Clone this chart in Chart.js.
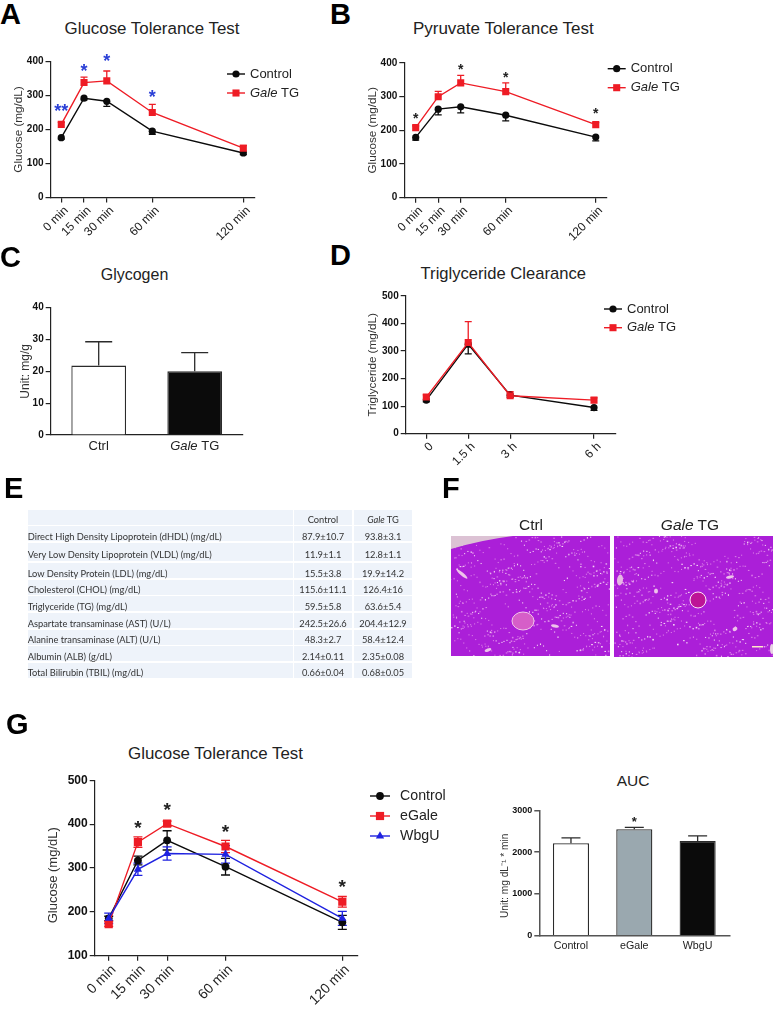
<!DOCTYPE html>
<html lang="en">
<head>
<meta charset="UTF-8">
<title>Gale TG metabolic panels</title>
<script src="https://cdn.jsdelivr.net/npm/chart.js"></script>
<style>
  html, body { margin: 0; padding: 0; background: #fff; }
  #page { position: relative; width: 774px; height: 1019px; overflow: hidden; font-family: "Liberation Sans", Arial, sans-serif; color: #222; }
  #page canvas { position: absolute; }
  .letter { position: absolute; font-size: 29px; line-height: 29px; font-weight: bold; color: #000; }
  .ptitle { position: absolute; transform: translate(-50%, -50%); white-space: nowrap; color: #222; }
  /* table E */
  .cell { position: absolute; box-sizing: border-box; padding-top: 5px; background: #eef3fa; font-family: Lato, "Open Sans", sans-serif; font-size: 9.3px; color: #333; display: flex; align-items: center; white-space: nowrap; }
  .cell.mid { justify-content: center; }
</style>
</head>
<body>
<div id="page"></div>

<script>
// shared
const minutes = [0, 15, 30, 60, 120];
const minuteLabels = ["0 min", "15 min", "30 min", "60 min", "120 min"];

// A - glucose tolerance test
const aControl = [176, 292, 283, 195, 131];
const aControlLow = [4, 5, 15, 9, 5];
const aGale = [215, 338, 343, 250, 145];
const aGaleHigh = [6, 16, 29, 24, 8];
const aStarTimes = [0, 15, 30, 60];
const aStarLevels = [262, 380, 408, 304];
const aStarTexts = ["**", "*", "*", "*"];

// B - pyruvate tolerance test
const bControl = [179, 263, 270, 245, 180];
const bControlLow = [8, 17, 18, 17, 11];
const bGale = [208, 300, 341, 315, 217];
const bGaleHigh = [5, 16, 22, 26, 6];
const bStarTimes = [0, 30, 60, 120];
const bStarLevels = [242, 386, 364, 256];

// C - glycogen
const cGroups = ["Ctrl", "Gale TG"];
const cValues = [21.8, 20];
const cHigh = [7.5, 5.9];

// D - triglyceride clearance
const hours = [0, 1.5, 3, 6];
const hourLabels = ["0", "1.5 h", "3 h", "6 h"];
const dControl = [122, 325, 140, 95];
const dControlLow = [6, 35, 8, 10];
const dGale = [133, 331, 138, 122];
const dGaleHigh = [8, 76, 15, 8];

// E - serum table
const tableRows = ["Direct High Density Lipoprotein (dHDL) (mg/dL)", "Very Low Density Lipoprotein (VLDL) (mg/dL)", "Low Density Protein (LDL) (mg/dL)", "Cholesterol (CHOL) (mg/dL)", "Triglyceride (TG) (mg/dL)", "Aspartate transaminase (AST) (U/L)", "Alanine transaminase (ALT) (U/L)", "Albumin (ALB) (g/dL)", "Total Bilirubin (TBIL) (mg/dL)"];
const tableControl = ["87.9±10.7", "11.9±1.1", "15.5±3.8", "115.6±11.1", "59.5±5.8", "242.5±26.6", "48.3±2.7", "2.14±0.11", "0.66±0.04"];
const tableGale = ["93.8±3.1", "12.8±1.1", "19.9±14.2", "126.4±16", "63.6±5.4", "204.4±12.9", "58.4±12.4", "2.35±0.08", "0.68±0.05"];

// G - glucose tolerance test, eGale / WbgU
const gControl = [185, 317, 363, 303, 176];
const gControlErr = [5, 10, 22, 19, 16];
const gGale = [172, 359, 401, 349, 223];
const gGaleErr = [5, 12, 6, 14, 12];
const gWbgu = [185, 297, 333, 331, 185];
const gWbguErr = [12, 14, 15, 20, 16];
const gStarTimes = [15, 30, 60, 120];
const gStarLevels = [399, 440, 389, 263];

// AUC
const aucGroups = ["Control", "eGale", "WbgU"];
const aucValues = [2210, 2545, 2266];
const aucHigh = [128, 48, 120];
const aucStarGroups = [1];
const aucStarLevels = [2770];

const BLACK = "#0b0b0b";
const RED = "#ee1c25";
const BLUE = "#1f22e0";
const STAR_BLUE = "#2a3fd6";
const page = document.getElementById("page");

// draws "Gale TG" with the gene name in italics, anything else plain
function richText(ctx, label, x, y, size, align) {
  const parts = label.startsWith("Gale ") ? [["italic ", "Gale"], ["", " " + label.slice(5)]] : [["", label]];
  let total = 0;
  parts.forEach(p => { ctx.font = p[0] + size + 'px "Liberation Sans"'; total += ctx.measureText(p[1]).width; });
  let cx = align === "center" ? x - total / 2 : x;
  ctx.textAlign = "left";
  ctx.textBaseline = "middle";
  parts.forEach(p => {
    ctx.font = p[0] + size + 'px "Liberation Sans"';
    ctx.fillText(p[1], cx, y);
    cx += ctx.measureText(p[1]).width;
  });
}

// error bars sit under the markers
const errorBars = {
  id: "errorBars",
  beforeDatasetsDraw(chart, args, opts) {
    const ctx = chart.ctx;
    const yScale = chart.scales.y;
    chart.data.datasets.forEach((ds, d) => {
      const meta = chart.getDatasetMeta(d);
      meta.data.forEach((pt, i) => {
        const val = yScale.getValueForPixel(pt.y);
        const high = ds.errHigh ? ds.errHigh[i] : 0;
        const low = ds.errLow ? ds.errLow[i] : 0;
        const y1 = yScale.getPixelForValue(val + high);
        const y2 = yScale.getPixelForValue(val - low);
        ctx.save();
        ctx.strokeStyle = ds.errColor || ds.borderColor;
        ctx.lineWidth = opts.width;
        ctx.beginPath();
        ctx.moveTo(pt.x, y1); ctx.lineTo(pt.x, y2);
        if (high) { ctx.moveTo(pt.x - opts.cap, y1); ctx.lineTo(pt.x + opts.cap, y1); }
        if (low) { ctx.moveTo(pt.x - opts.cap, y2); ctx.lineTo(pt.x + opts.cap, y2); }
        ctx.stroke();
        ctx.restore();
      });
    });
  }
};

// significance stars, placed through the scales
const stars = {
  id: "stars",
  afterDatasetsDraw(chart, args, opts) {
    if (!opts.at) return;
    const ctx = chart.ctx;
    ctx.save();
    ctx.fillStyle = opts.color;
    ctx.font = "bold " + opts.size + 'px "Liberation Sans"';
    ctx.textAlign = "center";
    ctx.textBaseline = "middle";
    opts.at.forEach((x, i) => {
      const px = chart.scales.x.getPixelForValue(x);
      const py = chart.scales.y.getPixelForValue(opts.levels[i]);
      ctx.fillText(opts.texts ? opts.texts[i] : "*", px, py + opts.size * 0.2);
    });
    ctx.restore();
  }
};

// legend with a mixed-style label, placed at page coordinates
const keyBox = {
  id: "keyBox",
  afterDraw(chart, args, opts) {
    if (!opts.x) return;
    const ctx = chart.ctx;
    const box = chart.canvas.getBoundingClientRect();
    const origin = page.getBoundingClientRect();
    const left = opts.x - (box.left - origin.left);
    const top = opts.y - (box.top - origin.top);
    chart.data.datasets.forEach((ds, i) => {
      const y = top + i * opts.step;
      ctx.save();
      ctx.strokeStyle = ds.borderColor;
      ctx.fillStyle = ds.pointBackgroundColor;
      ctx.lineWidth = ds.borderWidth;
      ctx.beginPath();
      ctx.moveTo(left, y); ctx.lineTo(left + opts.line, y);
      ctx.stroke();
      Chart.helpers.drawPoint(ctx, { pointStyle: ds.pointStyle, radius: ds.pointRadius, borderWidth: 0 }, left + opts.line / 2, y);
      ctx.fillStyle = "#222";
      richText(ctx, ds.label, left + opts.line + opts.gap, y, opts.size, "left");
      ctx.restore();
    });
  }
};

// bar chart tick labels, so "Gale" can be italic
const groupLabels = {
  id: "groupLabels",
  afterDraw(chart, args, opts) {
    const ctx = chart.ctx;
    const sx = chart.scales.x;
    ctx.save();
    ctx.fillStyle = "#222";
    chart.data.labels.forEach((label, i) => {
      richText(ctx, label, sx.getPixelForValue(i), sx.top + opts.offset, opts.size, "center");
    });
    ctx.restore();
  }
};

// every panel: box = canvas on the page, plot = where the axes must land on the page
function makePanel(p) {
  const c = document.createElement("canvas");
  c.style.left = p.box[0] + "px";
  c.style.top = p.box[1] + "px";
  c.width = p.box[2];
  c.height = p.box[3];
  page.appendChild(c);

  const left = p.plot[0] - p.box[0];
  const top = p.plot[1] - p.box[1];
  const right = p.box[0] + p.box[2] - p.plot[2];
  const bottom = p.box[1] + p.box[3] - p.plot[3];
  const axisColor = p.axisColor || "#222";
  const axisWidth = p.axisWidth || 1.2;

  const x = {
    grid: { display: true, drawOnChartArea: false, drawTicks: !!p.xTicks, tickLength: 5, color: axisColor, lineWidth: axisWidth },
    border: { display: true, color: axisColor, width: axisWidth },
    afterFit(scale) { scale.height = bottom; }
  };
  if (p.xTicks) {
    x.type = "linear";
    x.min = p.xRange[0];
    x.max = p.xRange[1];
    x.afterBuildTicks = scale => { scale.ticks = p.xTicks.map(v => ({ value: v })); };
    x.ticks = {
      autoSkip: false, minRotation: 45, maxRotation: 45, padding: 1, labelOffset: 5,
      color: "#222", font: { family: "Liberation Sans", size: p.xFont },
      callback: (v, i) => p.xNames[i]
    };
  } else {
    x.type = "category";
    x.ticks = { display: false };
  }

  new Chart(c, {
    type: p.kind,
    data: { labels: p.labels, datasets: p.datasets },
    plugins: [errorBars, stars, keyBox, groupLabels],
    options: {
      responsive: false,
      animation: false,
      events: [],
      layout: { padding: { left: 0, top: top, right: right, bottom: 0 } },
      scales: {
        x: x,
        y: {
          min: p.yRange[0], max: p.yRange[1],
          ticks: { stepSize: p.yStep, padding: 2, color: "#111", font: { family: "Liberation Sans", size: p.yFont, weight: "bold" }, callback: v => String(v) },
          grid: { display: true, drawOnChartArea: false, drawTicks: true, tickLength: 5, color: axisColor, lineWidth: axisWidth },
          border: { display: true, color: axisColor, width: axisWidth },
          title: { display: true, text: p.yTitle, color: "#333", padding: { top: 0, bottom: 0 }, font: { family: "Liberation Sans", size: p.titleFont } },
          afterFit(scale) { scale.width = left; }
        }
      },
      plugins: {
        legend: { display: false },
        tooltip: { enabled: false },
        errorBars: { width: p.errWidth || 1.3, cap: p.cap },
        stars: p.stars || {},
        keyBox: p.key || {},
        groupLabels: p.kind === "bar" ? p.groupFont : false
      }
    }
  });
}

function lineSeries(label, times, values, color, shape, radius, low, high) {
  return {
    label: label,
    data: times.map((t, i) => ({ x: t, y: values[i] })),
    borderColor: color, backgroundColor: color, pointBackgroundColor: color,
    borderWidth: 1.4, pointStyle: shape, pointRadius: radius, pointBorderWidth: 0,
    tension: 0, errLow: low, errHigh: high
  };
}

function barSeries(values, high, fills) {
  return {
    data: values, backgroundColor: fills, borderColor: "#2b2b2b", errColor: "#2b2b2b",
    borderWidth: 1.3, barPercentage: 0.57, categoryPercentage: 1, errHigh: high
  };
}

// later series on top, as in the reference
function stack(list) { list.forEach((d, i) => { d.order = list.length - i; }); return list; }

makePanel({
  kind: "line", box: [12, 45, 318, 205], plot: [50.5, 61.5, 255, 197.5],
  xTicks: minutes, xNames: minuteLabels, xRange: [-7.1, 127.7], xFont: 12,
  yRange: [0, 400], yStep: 100, yFont: 10, yTitle: "Glucose (mg/dL)", titleFont: 11.7, cap: 3.5,
  datasets: stack([
    lineSeries("Control", minutes, aControl, BLACK, "circle", 3.6, aControlLow, null),
    lineSeries("Gale TG", minutes, aGale, RED, "rect", 5, null, aGaleHigh)
  ]),
  stars: { at: aStarTimes, levels: aStarLevels, texts: aStarTexts, color: STAR_BLUE, size: 18 },
  key: { x: 227, y: 74, step: 19, line: 18, gap: 5, size: 13 }
});

makePanel({
  kind: "line", box: [366, 45, 369, 205], plot: [404.3, 63, 606.7, 197.7],
  xTicks: minutes, xNames: minuteLabels, xRange: [-7.6, 127.3], xFont: 12,
  yRange: [0, 400], yStep: 100, yFont: 10, yTitle: "Glucose (mg/dL)", titleFont: 11.7, cap: 3.5,
  datasets: stack([
    lineSeries("Control", minutes, bControl, BLACK, "circle", 3.6, bControlLow, null),
    lineSeries("Gale TG", minutes, bGale, RED, "rect", 5, null, bGaleHigh)
  ]),
  stars: { at: bStarTimes, levels: bStarLevels, color: "#222", size: 14 },
  key: { x: 607.7, y: 68.7, step: 19, line: 18, gap: 5, size: 13 }
});

makePanel({
  kind: "bar", box: [18, 295, 244, 170], plot: [50.7, 307.7, 242.7, 435],
  labels: cGroups,
  yRange: [0, 40], yStep: 10, yFont: 10, yTitle: "Unit: mg/g", titleFont: 12, cap: 13.5,
  datasets: [barSeries(cValues, cHigh, ["#ffffff", "#0b0b0b"])],
  groupFont: { size: 13, offset: 11 }
});

makePanel({
  kind: "line", box: [366, 285, 369, 190], plot: [405.7, 296, 615.7, 433.7],
  xTicks: hours, xNames: hourLabels, xRange: [-0.737, 6.776], xFont: 12,
  yRange: [0, 500], yStep: 100, yFont: 10, yTitle: "Triglyceride (mg/dL)", titleFont: 11.7, cap: 3.5,
  datasets: stack([
    lineSeries("Control", hours, dControl, BLACK, "circle", 3.6, dControlLow, null),
    lineSeries("Gale TG", hours, dGale, RED, "rect", 5, null, dGaleHigh)
  ]),
  key: { x: 604, y: 309, step: 18.7, line: 18, gap: 5, size: 13 }
});

// trailing spaces nudge the rotated y title down, it is not centred on the axis in the reference
makePanel({
  kind: "line", box: [46, 770, 414, 249], plot: [94.7, 780.3, 357.7, 955.7],
  xTicks: minutes, xNames: minuteLabels, xRange: [-7.2, 127.9], xFont: 14,
  yRange: [100, 500], yStep: 100, yFont: 12, yTitle: "Glucose (mg/dL)    ", titleFont: 13, cap: 4.5,
  datasets: stack([
    lineSeries("Control", minutes, gControl, BLACK, "circle", 3.9, gControlErr, gControlErr),
    lineSeries("eGale", minutes, gGale, RED, "rect", 5.8, gGaleErr, gGaleErr),
    lineSeries("WbgU", minutes, gWbgu, BLUE, "triangle", 4.8, gWbguErr, gWbguErr)
  ]),
  stars: { at: gStarTimes, levels: gStarLevels, color: "#222", size: 19 },
  key: { x: 370, y: 796, step: 20, line: 20, gap: 10, size: 14.2 }
});

makePanel({
  kind: "bar", box: [499, 800, 251, 165], plot: [539.3, 810.3, 729.3, 935.7],
  labels: aucGroups, axisColor: "#555", axisWidth: 1.5,
  yRange: [0, 3000], yStep: 1000, yFont: 9, yTitle: "Unit: mg dL\u207B\u00B9 * min  ", titleFont: 10.2, cap: 9.5,
  datasets: [barSeries(aucValues, aucHigh, ["#ffffff", "#9aa8af", "#0b0b0b"])],
  stars: { at: aucStarGroups, levels: aucStarLevels, color: "#222", size: 13 },
  groupFont: { size: 10.7, offset: 10 }
});

// page furniture
function addText(cls, text, left, top) {
  const el = document.createElement("div");
  el.className = cls;
  el.innerHTML = text;
  el.style.left = left + "px";
  el.style.top = top + "px";
  page.appendChild(el);
  return el;
}
[["A", 0, 0], ["B", 330, 0], ["C", 0, 243], ["D", 330, 241], ["E", 4, 474], ["F", 442, 474], ["G", 6, 710]]
  .forEach(l => addText("letter", l[0], l[1], l[2]));
[["Glucose Tolerance Test", 152, 29, 16.9], ["Pyruvate Tolerance Test", 503.3, 29, 17], ["Glycogen", 134.5, 274.7, 16],
 ["Triglyceride Clearance", 503.3, 274, 16.6], ["Glucose Tolerance Test", 215.5, 754, 16.9], ["AUC", 633, 781, 15.5],
 ["Ctrl", 531, 525, 15.5], ["<i>Gale</i> TG", 690, 525, 15.5]]
  .forEach(t => { addText("ptitle", t[0], t[1], t[2]).style.fontSize = t[3] + "px"; });

// table E
const rowTops = [526, 543, 563, 579.7, 596.3, 613, 629.7, 646.3, 663];
const rowHeights = [15, 18, 15, 15, 15, 15, 15, 15, 14.5];
function addCell(html, left, top, width, height, mid) {
  const el = addText("cell" + (mid ? " mid" : ""), "<span>" + html + "</span>", left, top);
  el.style.width = width + "px";
  el.style.height = height + "px";
}
addCell("", 27.7, 509.7, 265, 15.3);
addCell("Control", 294, 509.7, 58, 15.3, true);
addCell("<i>Gale</i> TG", 354, 509.7, 58, 15.3, true);
tableRows.forEach((name, i) => {
  addCell(name, 27.7, rowTops[i], 265, rowHeights[i]);
  addCell(tableControl[i], 294, rowTops[i], 58, rowHeights[i], true);
  addCell(tableGale[i], 354, rowTops[i], 58, rowHeights[i], true);
});

// histology F: stained texture on a plain canvas, speckle follows golden-ratio style sequences
function addSlide(left, width, height, phase, paint) {
  const c = document.createElement("canvas");
  c.width = width;
  c.height = height;
  c.style.left = left + "px";
  c.style.top = "536px";
  page.appendChild(c);
  const ctx = c.getContext("2d");
  ctx.fillStyle = "#ab1fd8";
  ctx.fillRect(0, 0, width, height);
  for (let i = 1; i < 5000; i++) {
    const x = (i * 0.7548777 + phase) % 1 * width + 4 * Math.sin(i * 12.9898);
    const y = (i * 0.5698403 + phase) % 1 * height + 4 * Math.sin(i * 78.233);
    const gate = (i * 0.4142136) % 1;
    const patch = Math.sin(x * 0.07 + phase * 6) * Math.sin(y * 0.09 + 1) + 0.4 * Math.sin(x * 0.19 + y * 0.13);
    if (gate > 0.05 + 0.14 * Math.max(0, patch + 0.4)) continue;
    ctx.fillStyle = i % 3 === 0 ? "rgba(250,220,245,.95)" : "rgba(238,160,238,.7)";
    ctx.fillRect(x, y, i % 4 === 0 ? 1.6 : 1.1, i % 7 === 0 ? 1.6 : 1.1);
  }
  paint(ctx);
}
function blob(ctx, x, y, rx, ry, angle, fill, ring) {
  ctx.beginPath();
  ctx.ellipse(x, y, rx, ry, angle, 0, Math.PI * 2);
  ctx.fillStyle = fill;
  ctx.fill();
  if (ring) { ctx.strokeStyle = ring; ctx.lineWidth = 1; ctx.stroke(); }
}
addSlide(451, 159, 120, 0.13, ctx => {
  ctx.fillStyle = "#dcc2d4";
  ctx.beginPath();
  ctx.moveTo(0, 0); ctx.lineTo(62, 0);
  ctx.quadraticCurveTo(30, 4, 0, 13);
  ctx.fill();
  blob(ctx, 72, 85, 11, 9, 0, "#d65ec8", "#f2c8ea");
  blob(ctx, 11, 38, 7, 1.6, 0.7, "#eec3ea");
  blob(ctx, 104, 90, 4, 1.6, 0.2, "#eec3ea");
  blob(ctx, 37, 114, 3.5, 1.5, -0.4, "#eec3ea");
});
addSlide(613.7, 159, 121, 0.61, ctx => {
  blob(ctx, 84, 64, 8, 8, 0, "#bd1496", "#fde6f6");
  blob(ctx, 6, 44, 3, 5.5, 0.1, "#e6b7e4");
  blob(ctx, 116, 41, 4, 1.5, -0.2, "#eec3ea");
  blob(ctx, 42, 55, 2, 2.5, 0, "#eec3ea");
  blob(ctx, 121, 93, 2.5, 2, -0.5, "#eec3ea");
  blob(ctx, 158, 113, 2, 5, 0, "#e8d2e4");
  ctx.fillStyle = "#ffe6c8";
  ctx.fillRect(138, 110, 11, 1.5);
});
</script>
</body>
</html>
